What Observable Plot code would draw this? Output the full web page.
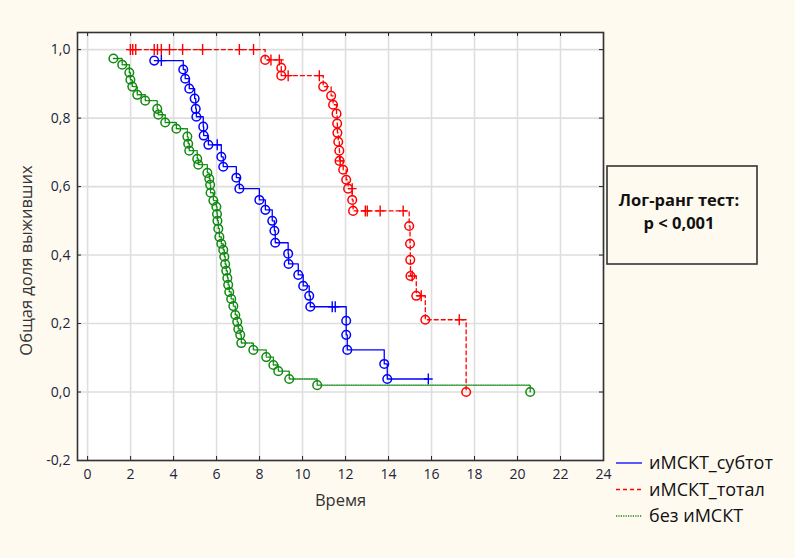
<!DOCTYPE html>
<html><head><meta charset="utf-8">
<script src="https://cdn.jsdelivr.net/npm/d3@7"></script>
<script src="https://cdn.jsdelivr.net/npm/@observablehq/plot@0.6"></script>
<style>
body{margin:0;background:#fffaf0;}
#chart{width:795px;height:558px;}
svg text{font-family:"Open Sans","Noto Sans",sans-serif;}
</style></head><body><div id="chart"></div>
<script>
// ---- data ----
const groupNames = ["иМСКТ_субтот", "иМСКТ_тотал", "без иМСКТ"];
const groupColors = ["#0000ff", "#ff0000", "#118a11"];

// иМСКТ_субтот (events)
const subtotTimes = [3.10, 4.45, 4.54, 4.73, 4.98, 5.03, 5.06, 5.38, 5.40, 5.62, 6.22, 6.31, 6.92, 7.06, 7.99, 8.27, 8.59, 8.69, 8.73, 9.33, 9.35, 9.80, 10.03, 10.31, 10.36, 12.03, 12.03, 12.08, 13.80, 13.94];
const subtotSurv  = [0.968, 0.942, 0.915, 0.886, 0.857, 0.827, 0.804, 0.775, 0.749, 0.722, 0.687, 0.658, 0.626, 0.594, 0.561, 0.532, 0.500, 0.471, 0.436, 0.404, 0.374, 0.342, 0.310, 0.281, 0.249, 0.208, 0.167, 0.123, 0.082, 0.038];
const subtotCensTimes = [3.43, 6.03, 11.38, 11.52, 15.85];
const subtotCensSurv  = [0.968, 0.722, 0.249, 0.249, 0.038];
const subtotStart = [3.10, 0.968];
const subtotEnd = 15.85;

// иМСКТ_тотал
const totalTimes = [8.26, 9.01, 9.01, 10.96, 11.33, 11.42, 11.58, 11.61, 11.62, 11.66, 11.71, 11.72, 11.89, 12.03, 12.12, 12.31, 12.35, 14.96, 15.00, 15.01, 15.02, 15.29, 15.71, 17.61];
const totalSurv  = [0.970, 0.947, 0.924, 0.892, 0.865, 0.839, 0.813, 0.784, 0.757, 0.731, 0.705, 0.675, 0.649, 0.620, 0.594, 0.561, 0.529, 0.485, 0.433, 0.386, 0.339, 0.281, 0.211, 0.0];
const totalCensTimes = [1.99, 2.10, 2.24, 3.10, 3.25, 3.43, 3.81, 4.42, 5.35, 7.06, 7.72, 8.53, 8.92, 9.33, 10.78, 11.75, 12.31, 12.92, 13.01, 13.61, 14.68, 15.10, 15.52, 17.29];
const totalCensSurv  = [1, 1, 1, 1, 1, 1, 1, 1, 1, 1, 1, 0.970, 0.970, 0.924, 0.924, 0.675, 0.594, 0.529, 0.529, 0.529, 0.529, 0.339, 0.281, 0.211];
const totalStart = [1.99, 1.0];
const totalEnd = 17.61;

// без иМСКТ
const noneTimes = [1.20, 1.61, 1.94, 1.99, 2.08, 2.31, 2.68, 3.24, 3.29, 3.61, 4.13, 4.64, 4.68, 4.73, 5.10, 5.15, 5.57, 5.66, 5.70, 5.72, 5.85, 5.99, 6.02, 6.04, 6.08, 6.13, 6.22, 6.31, 6.36, 6.40, 6.45, 6.50, 6.54, 6.59, 6.68, 6.78, 6.87, 6.96, 7.01, 7.10, 7.15, 7.71, 8.31, 8.64, 8.87, 9.38, 10.68, 20.59];
const noneSurv  = [0.974, 0.956, 0.933, 0.912, 0.892, 0.868, 0.851, 0.827, 0.810, 0.787, 0.769, 0.746, 0.725, 0.705, 0.681, 0.664, 0.640, 0.623, 0.605, 0.582, 0.559, 0.541, 0.520, 0.500, 0.477, 0.453, 0.433, 0.415, 0.395, 0.374, 0.354, 0.333, 0.313, 0.292, 0.272, 0.251, 0.225, 0.205, 0.184, 0.167, 0.143, 0.123, 0.102, 0.079, 0.061, 0.038, 0.020, 0.0];
const noneCensTimes = [];
const noneCensSurv = [];
const noneStart = [1.20, 0.974];
const noneEnd = 20.59;

const xTicks = [0, 2, 4, 6, 8, 10, 12, 14, 16, 18, 20, 22, 24];
const yTicks = [-0.2, 0, 0.2, 0.4, 0.6, 0.8, 1.0];
const xLabel = "Время";
const yLabel = "Общая доля выживших";
const testLines = ["Лог-ранг тест:", "p < 0,001"];

// ---- build tables ----
function events(times, surv) { return times.map((t, i) => ({t, S: surv[i]})); }
function curve(start, times, surv, end) {
  const pts = [{t: start[0], S: start[1]}];
  times.forEach((t, i) => { if (!(i === 0 && t === start[0])) pts.push({t, S: surv[i]}); });
  const last = pts[pts.length - 1];
  if (end > last.t) pts.push({t: end, S: last.S});
  return pts;
}
const groups = [
  {ev: events(subtotTimes, subtotSurv), ce: events(subtotCensTimes, subtotCensSurv), cu: curve(subtotStart, subtotTimes, subtotSurv, subtotEnd), dash: null},
  {ev: events(totalTimes, totalSurv), ce: events(totalCensTimes, totalCensSurv), cu: curve(totalStart, totalTimes, totalSurv, totalEnd), dash: "4,3"},
  {ev: events(noneTimes, noneSurv), ce: events(noneCensTimes, noneCensSurv), cu: curve(noneStart, noneTimes, noneSurv, noneEnd), dash: "1.2,1.2"}
];

const plusSymbol = {draw(ctx, size) { const r = Math.sqrt(size / Math.PI); ctx.moveTo(-r * 0.8, 0); ctx.lineTo(r * 0.8, 0); ctx.moveTo(0, -r); ctx.lineTo(0, r); }};

const W = 795, H = 558, mL = 77, mR = 192, mT = 32, mB = 98;
const fw = W - mL - mR, fh = H - mT - mB;
const fmt = d => d.toFixed(1).replace(".", ",");

const marks = [
  Plot.frame({fill: "white", stroke: null}),
  Plot.ruleX(xTicks, {stroke: "#dedede", strokeWidth: 1.6}),
  Plot.ruleY(yTicks, {stroke: "#dedede", strokeWidth: 1.6}),
  // inner ticks on all sides
  Plot.ruleX(xTicks, {stroke: "#222", insetTop: fh - 4}),
  Plot.ruleX(xTicks, {stroke: "#222", insetBottom: fh - 4}),
  Plot.ruleY(yTicks, {stroke: "#222", insetRight: fw - 4}),
  Plot.ruleY(yTicks, {stroke: "#222", insetLeft: fw - 4}),
];
groups.forEach((g, i) => {
  marks.push(Plot.line(g.cu, {x: "t", y: "S", curve: "step-after", stroke: groupColors[i], strokeWidth: i === 2 ? 1.4 : 1.3, strokeDasharray: g.dash}));
  marks.push(Plot.dot(g.ev, {x: "t", y: "S", r: 4.3, stroke: groupColors[i], strokeWidth: 1.5, fill: "none"}));
  if (g.ce.length) marks.push(Plot.dot(g.ce, {x: "t", y: "S", r: 5.5, symbol: plusSymbol, stroke: groupColors[i], strokeWidth: 1.4, fill: "none"}));
});
marks.push(
  Plot.frame({stroke: "#333", strokeWidth: 1.6}),
  Plot.axisX(xTicks, {tickSize: 0, tickPadding: 9, fontSize: 14, fill: "#20253a", label: null, tickFormat: d => String(d)}),
  Plot.axisY(yTicks, {tickSize: 0, tickPadding: 7, fontSize: 14, fill: "#20253a", label: null, tickFormat: fmt}),
  Plot.text([xLabel], {frameAnchor: "bottom", lineAnchor: "middle", textAnchor: "middle", dy: 40, fontSize: 16.5, fill: "#333", text: d => d}),
  Plot.text([yLabel], {frameAnchor: "left", lineAnchor: "middle", textAnchor: "middle", dx: -51, dy: 14, rotate: -90, fontSize: 16.5, fill: "#333", text: d => d})
);

const svg = Plot.plot({
  width: W, height: H, marginLeft: mL, marginRight: mR, marginTop: mT, marginBottom: mB,
  style: {background: "transparent", overflow: "visible"},
  x: {domain: [-0.47, 24]},
  y: {domain: [-0.2, 1.05]},
  marks
});
document.getElementById("chart").appendChild(svg);

// ---- log-rank box ----
const s = d3.select(svg);
const box = s.append("g");
box.append("rect").attr("x", 607).attr("y", 166).attr("width", 150).attr("height", 98)
  .attr("fill", "#fffaf0").attr("stroke", "#333").attr("stroke-width", 1.6);
box.selectAll("text").data(testLines).join("text")
  .attr("x", 679).attr("y", (d, i) => 206 + i * 23).attr("text-anchor", "middle")
  .attr("font-size", 16.5).attr("font-weight", "bold").attr("fill", "#111").text(d => d);

// ---- legend ----
const lg = s.append("g");
groups.forEach((g, i) => {
  const y = 463 + i * 26.5;
  lg.append("line").attr("x1", 616).attr("x2", 642).attr("y1", y).attr("y2", y)
    .attr("stroke", groupColors[i]).attr("stroke-width", 1.3).attr("stroke-dasharray", g.dash);
  lg.append("text").attr("x", 649).attr("y", y).attr("dy", "0.35em").attr("text-anchor", "start")
    .attr("font-size", 18).attr("fill", "#111").text(groupNames[i]);
});
</script></body></html>
